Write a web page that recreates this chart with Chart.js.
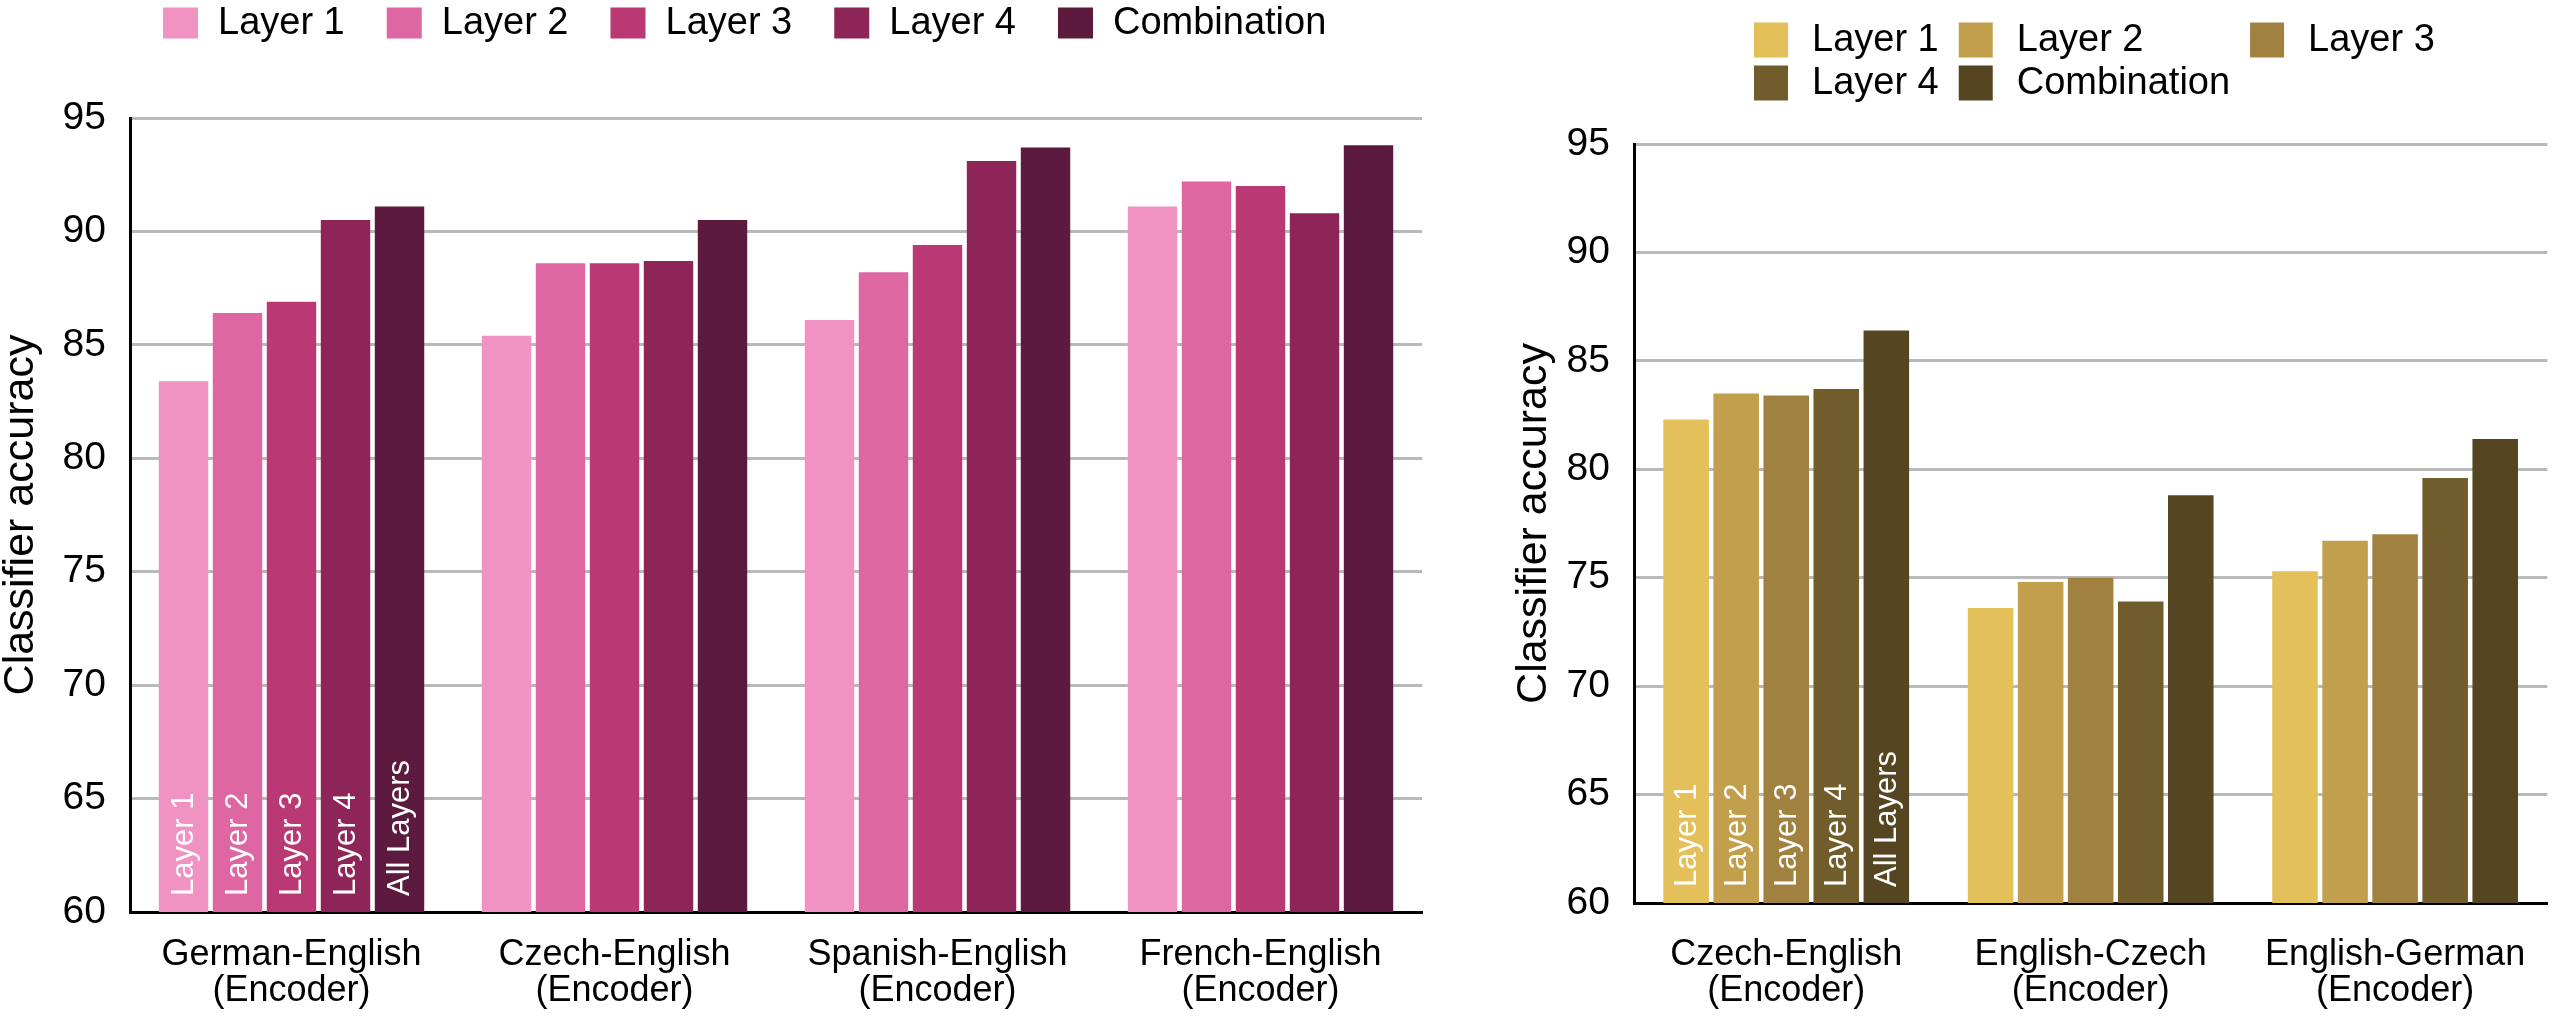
<!DOCTYPE html>
<html>
<head>
<meta charset="utf-8">
<script src="https://cdn.jsdelivr.net/npm/chart.js@4/dist/chart.umd.min.js"></script>
<style>
  body { margin: 0; background: #fff; }
  #wrap { position: relative; width: 2560px; height: 1021px; overflow: hidden; }
  canvas { position: absolute; top: 0; }
  #leftChart { left: 0; }
  #rightChart { left: 1440px; }
</style>
</head>
<body>
<div id="wrap">
  <canvas id="leftChart" width="1440" height="1021"></canvas>
  <canvas id="rightChart" width="1120" height="1021"></canvas>
</div>
<script>
// ---- data ----
const seriesNames = ['Layer 1', 'Layer 2', 'Layer 3', 'Layer 4', 'Combination'];
const barTags = ['Layer 1', 'Layer 2', 'Layer 3', 'Layer 4', 'All Layers'];
const yTicks = [60, 65, 70, 75, 80, 85, 90, 95];

const leftCategories = [
  ['German-English', '(Encoder)'],
  ['Czech-English', '(Encoder)'],
  ['Spanish-English', '(Encoder)'],
  ['French-English', '(Encoder)']
];
const leftLayer1 = [83.4, 85.4, 86.1, 91.1];
const leftLayer2 = [86.4, 88.6, 88.2, 92.2];
const leftLayer3 = [86.9, 88.6, 89.4, 92.0];
const leftLayer4 = [90.5, 88.7, 93.1, 90.8];
const leftCombo  = [91.1, 90.5, 93.7, 93.8];

const rightCategories = [
  ['Czech-English', '(Encoder)'],
  ['English-Czech', '(Encoder)'],
  ['English-German', '(Encoder)']
];
const rightLayer1 = [82.3, 73.6, 75.3];
const rightLayer2 = [83.5, 74.8, 76.7];
const rightLayer3 = [83.4, 75.0, 77.0];
const rightLayer4 = [83.7, 73.9, 79.6];
const rightCombo  = [86.4, 78.8, 81.4];

// ---- styles ----
const pinks = ['#F092C2', '#DE66A2', '#BA3974', '#8D2559', '#5C1A3E'];
const golds = ['#E4C05A', '#C29F4C', '#A08140', '#715C2C', '#554521'];
const FONT = "'Liberation Sans', Arial, Helvetica, sans-serif";

// legend drawn in a grid (columns like the original)
const gridLegend = {
  id: 'gridLegend',
  afterDraw(chart, args, opts) {
    const ctx = chart.ctx;
    ctx.save();
    ctx.font = opts.size + 'px ' + FONT;
    ctx.textBaseline = 'middle';
    const items = chart.data.datasets.map(d => ({ text: d.label, color: d.backgroundColor }));
    const colW = [];
    items.forEach((it, i) => {
      const c = i % opts.cols;
      const w = opts.boxW + opts.gap + ctx.measureText(it.text).width;
      colW[c] = Math.max(colW[c] || 0, w);
    });
    items.forEach((it, i) => {
      const c = i % opts.cols, r = Math.floor(i / opts.cols);
      let x = opts.x;
      for (let k = 0; k < c; k++) x += colW[k] + opts.colPad;
      const y = opts.y + r * opts.rowH;
      ctx.fillStyle = it.color;
      ctx.fillRect(x, y - opts.boxH / 2, opts.boxW, opts.boxH);
      ctx.fillStyle = '#000';
      ctx.fillText(it.text, x + opts.boxW + opts.gap, y + 1);
    });
    ctx.restore();
  }
};

// vertical white tags inside the first group of bars
const barTagPlugin = {
  id: 'barTags',
  afterDatasetsDraw(chart) {
    const ctx = chart.ctx;
    const bottom = chart.chartArea.bottom;
    ctx.save();
    ctx.fillStyle = '#fff';
    ctx.font = '31px ' + FONT;
    ctx.textAlign = 'left';
    ctx.textBaseline = 'middle';
    chart.data.datasets.forEach((ds, i) => {
      const bar = chart.getDatasetMeta(i).data[0];
      ctx.save();
      ctx.translate(bar.x + 1, bottom - 16);
      ctx.rotate(-Math.PI / 2);
      ctx.fillText(barTags[i], 0, 0);
      ctx.restore();
    });
    ctx.restore();
  }
};

function makeChart(id, labels, series, colors, lay) {
  const ctx = document.getElementById(id).getContext('2d');
  return new Chart(ctx, {
    type: 'bar',
    data: {
      labels: labels,
      datasets: series.map((vals, i) => ({
        label: seriesNames[i],
        data: vals,
        backgroundColor: colors[i],
        borderWidth: 0,
        categoryPercentage: lay.catPct,
        barPercentage: lay.barPct
      }))
    },
    options: {
      responsive: false,
      animation: false,
      events: [],
      layout: { padding: { top: lay.top, left: lay.padLeft, right: lay.padRight, bottom: 0 } },
      plugins: {
        legend: { display: false },
        tooltip: { enabled: false },
        gridLegend: lay.legend
      },
      scales: {
        x: {
          grid: { display: false, drawTicks: false },
          border: { display: true, color: '#000', width: 3 },
          ticks: {
            color: '#000',
            padding: lay.xPad,
            maxRotation: 0,
            autoSkip: false,
            font: { family: FONT, size: 36, lineHeight: 1.0 }
          },
          afterFit: s => { s.height = lay.xHeight; }
        },
        y: {
          min: 60,
          max: 95,
          afterBuildTicks: s => { s.ticks = yTicks.map(v => ({ value: v })); },
          grid: { color: '#B9B9B9', lineWidth: 3, drawTicks: false },
          border: { display: true, color: '#000', width: 3 },
          ticks: {
            color: '#000',
            padding: 24,
            font: { family: FONT, size: 39 }
          },
          title: {
            display: true,
            text: 'Classifier accuracy',
            color: '#000',
            padding: 0,
            font: { family: FONT, size: 43, lineHeight: 1.0 }
          },
          afterFit: s => { s.width = lay.yWidth; }
        }
      }
    },
    plugins: [gridLegend, barTagPlugin]
  });
}

makeChart('leftChart', leftCategories,
  [leftLayer1, leftLayer2, leftLayer3, leftLayer4, leftCombo], pinks, {
    top: 118, padLeft: 0, padRight: 18, yWidth: 130, xHeight: 109, xPad: 25,
    catPct: 0.836, barPct: 0.915,
    legend: { x: 163, y: 23, cols: 5, rowH: 43, boxW: 35, boxH: 31, gap: 20, colPad: 42, size: 38 }
  });

makeChart('rightChart', rightCategories,
  [rightLayer1, rightLayer2, rightLayer3, rightLayer4, rightCombo], golds, {
    top: 144, padLeft: 73, padRight: 5, yWidth: 121, xHeight: 118, xPad: 34,
    catPct: 0.822, barPct: 0.91,
    legend: { x: 314, y: 40, cols: 3, rowH: 43, boxW: 34, boxH: 35, gap: 24, colPad: 20, size: 38 }
  });
</script>
</body>
</html>
